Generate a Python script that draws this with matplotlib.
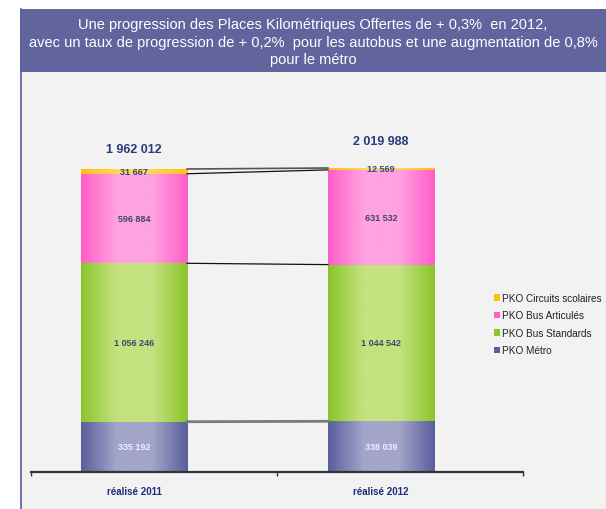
"""Stacked bars of PKO (places-kilometres offered) by mode, 2011 vs 2012."""

import numpy as np
import matplotlib

matplotlib.use("Agg")
import matplotlib.pyplot as plt
from matplotlib.colors import LinearSegmentedColormap
from matplotlib.patches import Rectangle

plt.rcParams["font.family"] = ["Liberation Sans", "DejaVu Sans"]

categories = ["réalisé 2011", "réalisé 2012"]
series_names = ["PKO Métro", "PKO Bus Standards", "PKO Bus Articulés", "PKO Circuits scolaires"]
metro = [335192, 338039]
bus_standards = [1056246, 1044542]
bus_articules = [596884, 631532]
circuits_scolaires = [31667, 12569]
totals = [1962012, 2019988]
title_lines = [
    "Une progression des Places Kilométriques Offertes de + 0,3%  en 2012,",
    "avec un taux de progression de + 0,2%  pour les autobus et une augmentation de 0,8%",
    "pour le métro",
]

# edge colour, centre colour
shades = [
    ("#5a5e9c", "#a3a5c9"),
    ("#8ac52c", "#c4e27f"),
    ("#ff5ec8", "#ffa2e0"),
    ("#ffbf10", "#ffd65a"),
]
label_colors = ["#eef0ff", "#3b4675", "#3b4675", "#3b4675"]


def fmt(v):
    return f"{v:,}".replace(",", " ")


W, H = 606, 510
fig = plt.figure(figsize=(W / 100, H / 100), dpi=100)
fig.patch.set_facecolor("white")

# panel background, title band and left border
fig.add_artist(Rectangle((20 / W, 0), 1, 500 / H, transform=fig.transFigure,
                         facecolor="#f2f2f2", edgecolor="none", zorder=0))
fig.add_artist(Rectangle((20 / W, (510 - 73) / H), 1, 63 / H, transform=fig.transFigure,
                         facecolor="#62649e", edgecolor="none", zorder=1))
fig.add_artist(plt.Line2D([20.5 / W, 20.5 / W], [0, 500 / H], transform=fig.transFigure,
                          color="#5c5f9e", lw=1.2, zorder=2))
for line, y in zip(title_lines, [25, 43, 60]):
    fig.text(313 / W, 1 - y / H, line, ha="center", va="center", color="white",
             fontsize=10.5, zorder=3)

ax = fig.add_axes([31 / W, (510 - 473) / H, (523 - 31) / W, (473 - 98) / H])
ax.set_facecolor("none")

x = np.arange(len(categories))
width = 0.43
stack = [metro, bus_standards, bus_articules, circuits_scolaires]
bottom = np.zeros(len(categories))
grad = np.linspace(0, 1, 200).reshape(1, -1)
tops = []
for k, vals in enumerate(stack):
    vals = np.array(vals, dtype=float)
    edge, light = shades[k]
    cmap = LinearSegmentedColormap.from_list(f"g{k}", [edge, light, light, edge])
    bars = ax.bar(x, vals, width, bottom=bottom, color=edge, label=series_names[k],
                  edgecolor="none", zorder=2)
    for b in bars:
        im = ax.imshow(grad, cmap=cmap, aspect="auto", zorder=3,
                       extent=(b.get_x(), b.get_x() + b.get_width(),
                               b.get_y(), b.get_y() + b.get_height()))
        im.set_clip_path(b)
    for xi, v, b0 in zip(x, vals, bottom):
        ax.text(xi, b0 + v / 2, fmt(int(v)), ha="center", va="center",
                fontsize=6.5, fontweight="bold", color=label_colors[k], zorder=5)
    bottom = bottom + vals
    tops.append(bottom.copy())

# series lines between the bars
line_styles = [("#7a7a7a", 2.0), ("#111111", 0.9), ("#111111", 0.9), ("#555555", 1.2)]
for t, (c, lw) in zip(tops, line_styles):
    ax.plot([x[0] + width / 2, x[1] - width / 2], [t[0], t[1]], color=c, lw=lw, zorder=4)

for xi, tot in zip(x, totals):
    ax.text(xi, tot + 190000, fmt(tot), ha="center", va="center", fontsize=9,
            fontweight="bold", color="#2a3a7c", zorder=5)

ax.set_xlim(-0.417, 1.575)
ax.set_ylim(0, 2.5e6)
for s in ["left", "right", "top"]:
    ax.spines[s].set_visible(False)
ax.spines["bottom"].set_color("#333333")
ax.spines["bottom"].set_linewidth(1.6)
ax.spines["bottom"].set_zorder(6)
ax.set_yticks([])
ax.set_xticks(x)
ax.set_xticklabels(categories, fontsize=7, fontweight="bold", color="#1f2d7a")
ax.tick_params(axis="x", which="major", length=0, pad=10)
ax.set_xticks([-0.417, 0.579, 1.575], minor=True)
ax.tick_params(axis="x", which="minor", length=3, width=1, color="#333333")

handles, labels = ax.get_legend_handles_labels()
leg = ax.legend(handles[::-1], labels[::-1], loc="upper left",
                bbox_to_anchor=(490 / W, 1 - 290 / H), bbox_transform=fig.transFigure,
                frameon=False, fontsize=7.2, handlelength=0.6, handleheight=0.6,
                handletextpad=0.15, labelspacing=0.75, borderaxespad=0)
for t in leg.get_texts():
    t.set_color("#222222")

fig.savefig("out.png", dpi=100)
